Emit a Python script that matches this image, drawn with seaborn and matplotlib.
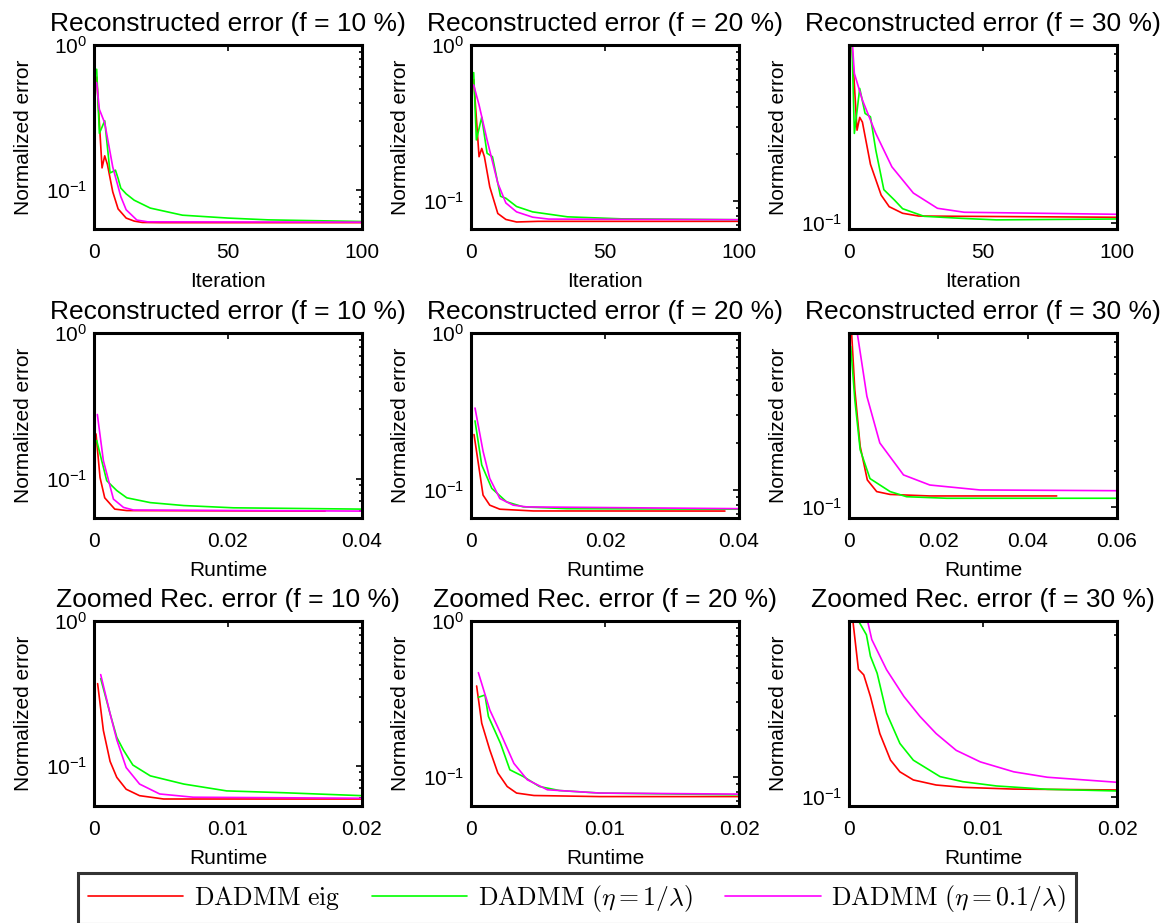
import numpy as np
import pandas as pd
import seaborn as sns
import matplotlib
matplotlib.use("Agg")
import matplotlib.pyplot as plt
from matplotlib.ticker import FixedLocator, LogLocator, NullFormatter, LogFormatterSciNotation

# ---- data ----
# row 1: error vs iteration
it_f10_eig_x = [1, 3, 4, 5, 7, 9, 12, 15, 18, 25, 50, 100]
it_f10_eig_y = [0.60, 0.142, 0.172, 0.150, 0.097, 0.074, 0.064, 0.061, 0.0597, 0.0595, 0.0595, 0.0595]
it_f10_g_x = [1, 2, 4, 6, 8, 9, 10, 12, 15, 21, 33, 50, 65, 100]
it_f10_g_y = [0.68, 0.246, 0.30, 0.131, 0.137, 0.12, 0.103, 0.094, 0.085, 0.075, 0.067, 0.064, 0.0622, 0.0606]
it_f10_m_x = [1, 2, 4, 7, 10, 12, 16, 20, 100]
it_f10_m_y = [0.55, 0.36, 0.29, 0.144, 0.090, 0.073, 0.062, 0.0603, 0.0600]

it_f20_eig_x = [1, 3, 4, 5, 7, 10, 13, 17, 25, 100]
it_f20_eig_y = [0.60, 0.192, 0.217, 0.192, 0.123, 0.083, 0.076, 0.0732, 0.0739, 0.0739]
it_f20_g_x = [1, 2, 4, 6, 8, 11, 13, 17, 23, 36, 56, 100]
it_f20_g_y = [0.665, 0.246, 0.344, 0.202, 0.192, 0.107, 0.104, 0.092, 0.085, 0.079, 0.0767, 0.0757]
it_f20_m_x = [1, 3, 6, 10, 13, 17, 23, 29, 100]
it_f20_m_y = [0.554, 0.413, 0.246, 0.130, 0.097, 0.085, 0.0786, 0.0764, 0.0757]

it_f30_eig_x = [1, 3, 4, 5, 8, 12, 15, 20, 26, 100]
it_f30_eig_y = [0.70, 0.267, 0.306, 0.291, 0.186, 0.134, 0.1185, 0.1105, 0.1073, 0.1059]
it_f30_g_x = [1, 2, 4, 6, 8, 10, 13, 17, 20, 28, 42, 55, 100]
it_f30_g_y = [0.75, 0.258, 0.416, 0.319, 0.308, 0.216, 0.142, 0.127, 0.116, 0.107, 0.1047, 0.103, 0.104]
it_f30_m_x = [1, 2, 5, 10, 16, 24, 33, 43, 100]
it_f30_m_y = [0.75, 0.488, 0.368, 0.258, 0.181, 0.137, 0.1165, 0.1117, 0.1093]

# row 2: error vs runtime
rt_f10_eig_x = [0.0003, 0.0009, 0.0016, 0.0031, 0.0049, 0.0345]
rt_f10_eig_y = [0.203, 0.102, 0.074, 0.0619, 0.0605, 0.0600]
rt_f10_g_x = [0.0004, 0.0019, 0.0034, 0.0049, 0.0084, 0.0134, 0.0208, 0.04]
rt_f10_g_y = [0.183, 0.097, 0.083, 0.074, 0.0686, 0.0655, 0.0632, 0.0619]
rt_f10_m_x = [0.0005, 0.0014, 0.0029, 0.0044, 0.0059, 0.04]
rt_f10_m_y = [0.276, 0.133, 0.0725, 0.0636, 0.061, 0.0600]

rt_f20_eig_x = [0.00045, 0.0018, 0.0028, 0.0043, 0.0093, 0.0379]
rt_f20_eig_y = [0.225, 0.0924, 0.0797, 0.0751, 0.0732, 0.0731]
rt_f20_g_x = [0.0006, 0.0016, 0.0031, 0.0053, 0.0078, 0.0143, 0.04]
rt_f20_g_y = [0.275, 0.144, 0.102, 0.0837, 0.0777, 0.0757, 0.0751]
rt_f20_m_x = [0.0006, 0.0018, 0.0028, 0.0043, 0.0063, 0.0083, 0.04]
rt_f20_m_y = [0.332, 0.176, 0.118, 0.0879, 0.0797, 0.0777, 0.0757]

rt_f30_eig_x = [0.0002, 0.0013, 0.0025, 0.0041, 0.0062, 0.0092, 0.0181, 0.0465]
rt_f30_eig_y = [0.35, 0.205, 0.145, 0.118, 0.1099, 0.108, 0.107, 0.107]
rt_f30_g_x = [0.0004, 0.0013, 0.0025, 0.0047, 0.0092, 0.0129, 0.0219, 0.06]
rt_f30_g_y = [0.267, 0.193, 0.142, 0.119, 0.1099, 0.1065, 0.1055, 0.1055]
rt_f30_m_x = [0.0013, 0.004, 0.0069, 0.0122, 0.0181, 0.0293, 0.06]
rt_f30_m_y = [0.32, 0.197, 0.148, 0.1217, 0.1144, 0.111, 0.1105]

# row 3: zoomed runtime
zm_f10_eig_x = [0.00027, 0.0007, 0.0012, 0.0017, 0.0024, 0.0034, 0.0052, 0.02]
zm_f10_eig_y = [0.369, 0.175, 0.107, 0.083, 0.0687, 0.062, 0.0588, 0.0588]
zm_f10_g_x = [0.0005, 0.0012, 0.0017, 0.0022, 0.0029, 0.0042, 0.0067, 0.0099, 0.0141, 0.02]
zm_f10_g_y = [0.40, 0.229, 0.157, 0.128, 0.101, 0.085, 0.0746, 0.0669, 0.065, 0.062]
zm_f10_m_x = [0.0005, 0.0012, 0.0017, 0.0024, 0.0034, 0.0049, 0.0074, 0.02]
zm_f10_m_y = [0.426, 0.229, 0.151, 0.097, 0.0746, 0.0637, 0.0605, 0.0595]

zm_f20_eig_x = [0.00042, 0.0008, 0.0014, 0.002, 0.0027, 0.0034, 0.0047, 0.0096, 0.02]
zm_f20_eig_y = [0.383, 0.221, 0.149, 0.106, 0.0867, 0.0787, 0.0759, 0.0747, 0.0747]
zm_f20_g_x = [0.00055, 0.00104, 0.0013, 0.0022, 0.0029, 0.0039, 0.0051, 0.0066, 0.0096, 0.02]
zm_f20_g_y = [0.324, 0.335, 0.244, 0.164, 0.111, 0.1005, 0.0867, 0.0817, 0.0787, 0.0767]
zm_f20_m_x = [0.00055, 0.0014, 0.0022, 0.0032, 0.0042, 0.0057, 0.0096, 0.02]
zm_f20_m_y = [0.466, 0.269, 0.191, 0.122, 0.0958, 0.0826, 0.0787, 0.0775]

zm_f30_eig_x = [0.00027, 0.0007, 0.0011, 0.0016, 0.0023, 0.0031, 0.0038, 0.0048, 0.0065, 0.0085, 0.0123, 0.02]
zm_f30_eig_y = [0.46, 0.298, 0.284, 0.236, 0.172, 0.137, 0.124, 0.1157, 0.1108, 0.1086, 0.107, 0.1062]
zm_f30_g_x = [0.0006, 0.0013, 0.0016, 0.0021, 0.0028, 0.0038, 0.0048, 0.0068, 0.0085, 0.011, 0.0148, 0.02]
zm_f30_g_y = [0.46, 0.40, 0.333, 0.288, 0.205, 0.158, 0.137, 0.119, 0.114, 0.1099, 0.1068, 0.1053]
zm_f30_m_x = [0.0013, 0.0017, 0.0028, 0.0041, 0.0053, 0.0065, 0.008, 0.0098, 0.0123, 0.0148, 0.02]
zm_f30_m_y = [0.47, 0.384, 0.297, 0.236, 0.199, 0.172, 0.149, 0.135, 0.124, 0.1184, 0.1134]

series_labels = [r"$\mathrm{DADMM\ eig}$",
                 r"$\mathrm{DADMM}\ (\eta = 1/\lambda)$",
                 r"$\mathrm{DADMM}\ (\eta = 0.1/\lambda)$"]
series_colors = ["#ff0000", "#00ff00", "#ff00ff"]

titles = [["Reconstructed error (f = 10 %)", "Reconstructed error (f = 20 %)", "Reconstructed error (f = 30 %)"],
          ["Reconstructed error (f = 10 %)", "Reconstructed error (f = 20 %)", "Reconstructed error (f = 30 %)"],
          ["Zoomed Rec. error (f = 10 %)", "Zoomed Rec. error (f = 20 %)", "Zoomed Rec. error (f = 30 %)"]]
xlabels = ["Iteration", "Runtime", "Runtime"]
ylabel = "Normalized error"

xticks = [[[0, 50, 100]] * 3,
          [[0, 0.02, 0.04], [0, 0.02, 0.04], [0, 0.02, 0.04, 0.06]],
          [[0, 0.01, 0.02]] * 3]
xticklabels = [[["0", "50", "100"]] * 3,
               [["0", "0.02", "0.04"], ["0", "0.02", "0.04"], ["0", "0.02", "0.04", "0.06"]],
               [["0", "0.01", "0.02"]] * 3]
xlims = [[(0, 100)] * 3,
         [(0, 0.04), (0, 0.04), (0, 0.06)],
         [(0, 0.02)] * 3]
ylims = [[(0.0538, 1), (0.066, 1), (0.0935, 0.66)],
         [(0.0538, 1), (0.066, 1), (0.0935, 0.29)],
         [(0.0526, 1), (0.065, 1), (0.0926, 0.45)]]

panels = [
    [[(it_f10_eig_x, it_f10_eig_y), (it_f10_g_x, it_f10_g_y), (it_f10_m_x, it_f10_m_y)],
     [(it_f20_eig_x, it_f20_eig_y), (it_f20_g_x, it_f20_g_y), (it_f20_m_x, it_f20_m_y)],
     [(it_f30_eig_x, it_f30_eig_y), (it_f30_g_x, it_f30_g_y), (it_f30_m_x, it_f30_m_y)]],
    [[(rt_f10_eig_x, rt_f10_eig_y), (rt_f10_g_x, rt_f10_g_y), (rt_f10_m_x, rt_f10_m_y)],
     [(rt_f20_eig_x, rt_f20_eig_y), (rt_f20_g_x, rt_f20_g_y), (rt_f20_m_x, rt_f20_m_y)],
     [(rt_f30_eig_x, rt_f30_eig_y), (rt_f30_g_x, rt_f30_g_y), (rt_f30_m_x, rt_f30_m_y)]],
    [[(zm_f10_eig_x, zm_f10_eig_y), (zm_f10_g_x, zm_f10_g_y), (zm_f10_m_x, zm_f10_m_y)],
     [(zm_f20_eig_x, zm_f20_eig_y), (zm_f20_g_x, zm_f20_g_y), (zm_f20_m_x, zm_f20_m_y)],
     [(zm_f30_eig_x, zm_f30_eig_y), (zm_f30_g_x, zm_f30_g_y), (zm_f30_m_x, zm_f30_m_y)]],
]

# ---- style ----
sns.set_theme(style="white")
plt.rcParams["font.family"] = ["Liberation Sans", "DejaVu Sans"]
plt.rcParams["mathtext.fontset"] = "cm"
plt.rcParams["text.color"] = "black"
plt.rcParams["axes.labelcolor"] = "black"
plt.rcParams["xtick.color"] = "black"
plt.rcParams["ytick.color"] = "black"

W, H = 1171, 923
fig = plt.figure(figsize=(W / 100, H / 100), dpi=100)

col_px = [(94, 362), (471, 739), (849, 1117)]
row_px = [(45, 229), (333, 518), (621, 806)]

handles = None
for r in range(3):
    for c in range(3):
        x0, x1 = col_px[c]
        y0, y1 = row_px[r]
        ax = fig.add_axes([x0 / W, 1 - y1 / H, (x1 - x0) / W, (y1 - y0) / H])
        for (xs, ys), lab, col in zip(panels[r][c], series_labels, series_colors):
            df = pd.DataFrame({"x": xs, "y": ys})
            sns.lineplot(data=df, x="x", y="y", ax=ax, color=col, lw=1.2,
                         label=lab, sort=False, estimator=None, legend=False)
        ax.set_yscale("log")
        ax.set_xlim(*xlims[r][c])
        ax.set_ylim(*ylims[r][c])
        ax.yaxis.set_major_locator(FixedLocator([0.01, 0.1, 1]))
        ax.yaxis.set_major_formatter(LogFormatterSciNotation())
        ax.yaxis.set_minor_locator(LogLocator(base=10, subs=np.arange(2, 10)))
        ax.yaxis.set_minor_formatter(NullFormatter())
        ax.set_xticks(xticks[r][c])
        ax.set_xticklabels(xticklabels[r][c])
        ax.tick_params(direction="in", top=True, right=True, which="both",
                       labelsize=15, width=1.2, color="black")
        ax.tick_params(which="major", length=4)
        ax.tick_params(which="minor", length=2.5)
        ax.tick_params(axis="x", pad=10)
        ax.tick_params(axis="y", pad=5)
        for s in ax.spines.values():
            s.set_visible(True)
            s.set_color("black")
            s.set_linewidth(2.2)
        ax.set_title(titles[r][c], fontsize=19, pad=10)
        ax.set_xlabel(xlabels[r], fontsize=15, labelpad=7)
        ax.set_ylabel(ylabel, fontsize=15, labelpad=9)
        ax.grid(False)
        if handles is None:
            handles = ax.get_lines()

leg = fig.legend(handles[:3], series_labels, loc="center", ncol=3,
                 bbox_to_anchor=(78 / W, 1 - 920 / H, 998 / W, 43 / H),
                 mode="expand", borderaxespad=0, fontsize=18.5, handlelength=3.7,
                 frameon=True, fancybox=False, edgecolor="black",
                 columnspacing=0.8, handletextpad=0.4)
leg.get_frame().set_linewidth(2.2)

fig.savefig("out.png", dpi=100)
